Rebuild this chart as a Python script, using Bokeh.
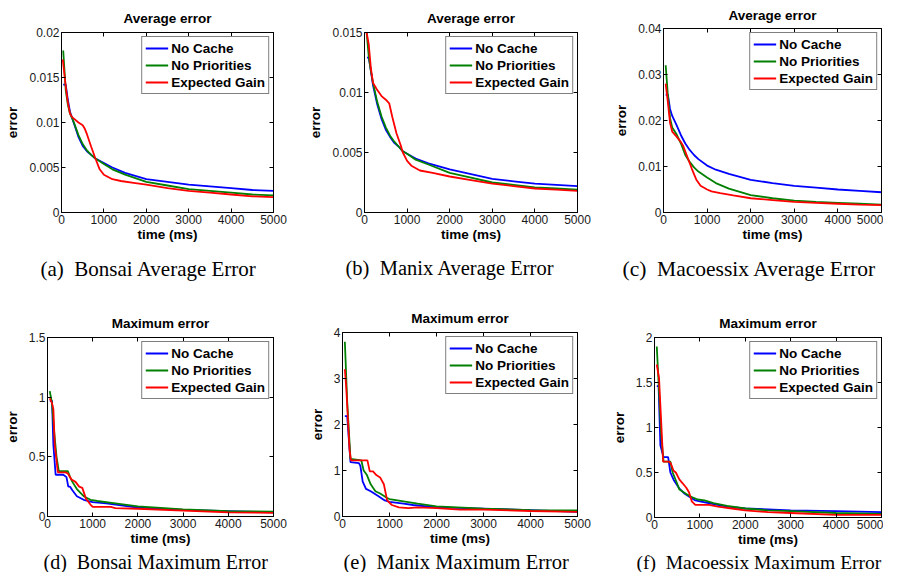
from bokeh.plotting import figure
from bokeh.layouts import column, row
from bokeh.models import Range1d, LinearAxis, FixedTicker, Title, Legend, LegendItem
from bokeh.embed import file_html
from bokeh.resources import INLINE

SERIES = ["No Cache", "No Priorities", "Expected Gain"]
COLORS = ["#0000ff", "#008000", "#ff0000"]
X_TICKS = [0, 1000, 2000, 3000, 4000, 5000]
X_LABELS = ["0", "1000", "2000", "3000", "4000", "5000"]

# (a) Bonsai average error
a_nc_t = [40, 100, 150, 200, 250, 300, 400, 500, 600, 700, 800, 1000, 1200, 1500, 2000, 2500, 3000, 3500, 4000, 4500, 5000]
a_nc = [0.0142, 0.0142, 0.0125, 0.0112, 0.0105, 0.0098, 0.0084, 0.0074, 0.0068, 0.0064, 0.0060, 0.0055, 0.0050, 0.0044, 0.0037, 0.0034, 0.0031, 0.0029, 0.0027, 0.0025, 0.0024]
a_np_t = [40, 100, 150, 200, 250, 300, 400, 500, 600, 700, 800, 1000, 1200, 1500, 2000, 2500, 3000, 3500, 4000, 4500, 5000]
a_np = [0.0180, 0.0136, 0.0120, 0.0110, 0.0105, 0.0099, 0.0086, 0.0076, 0.0069, 0.0064, 0.0060, 0.0054, 0.0048, 0.0042, 0.0034, 0.0030, 0.0026, 0.0024, 0.0022, 0.0020, 0.0019]
a_eg_t = [30, 100, 150, 200, 250, 300, 400, 500, 550, 600, 700, 800, 900, 1000, 1200, 1400, 1700, 2000, 2500, 3000, 3500, 4000, 4500, 5000]
a_eg = [0.0170, 0.0140, 0.0122, 0.0110, 0.0106, 0.0104, 0.0100, 0.0097, 0.0093, 0.0087, 0.0073, 0.0060, 0.0048, 0.0042, 0.0037, 0.0035, 0.0033, 0.0031, 0.0027, 0.0024, 0.0022, 0.0020, 0.0018, 0.0017]
a_yticks = [0, 0.005, 0.01, 0.015, 0.02]
a_ylabels = ["0", "0.005", "0.01", "0.015", "0.02"]

# (b) Manix average error
b_nc_t = [60, 100, 150, 200, 300, 400, 500, 600, 700, 800, 900, 1000, 1200, 1500, 2000, 2500, 3000, 3500, 4000, 4500, 5000]
b_nc = [0.0129, 0.0129, 0.0118, 0.0106, 0.0090, 0.0078, 0.0069, 0.0063, 0.0058, 0.0055, 0.0051, 0.0049, 0.0045, 0.0041, 0.0036, 0.0032, 0.0028, 0.0026, 0.0024, 0.0023, 0.0022]
b_np_t = [50, 100, 150, 200, 300, 400, 500, 600, 700, 800, 900, 1000, 1200, 1500, 2000, 2500, 3000, 3500, 4000, 4500, 5000]
b_np = [0.0150, 0.0130, 0.0118, 0.0108, 0.0092, 0.0080, 0.0071, 0.0064, 0.0059, 0.0055, 0.0051, 0.0049, 0.0044, 0.0040, 0.0033, 0.0029, 0.0025, 0.0023, 0.0021, 0.0020, 0.0019]
b_eg_t = [50, 100, 150, 200, 250, 300, 400, 500, 580, 650, 750, 850, 900, 1000, 1100, 1300, 1600, 2000, 2500, 3000, 3500, 4000, 4500, 5000]
b_eg = [0.0150, 0.0140, 0.0120, 0.0108, 0.0105, 0.0102, 0.0097, 0.0094, 0.0091, 0.0080, 0.0066, 0.0056, 0.0050, 0.0043, 0.0039, 0.0035, 0.0033, 0.0030, 0.0027, 0.0024, 0.0022, 0.0020, 0.0019, 0.0018]
b_yticks = [0, 0.005, 0.01, 0.015]
b_ylabels = ["0", "0.005", "0.01", "0.015"]

# (c) Macoessix average error
c_nc_t = [50, 100, 150, 200, 300, 400, 500, 600, 700, 800, 1000, 1200, 1500, 2000, 2500, 3000, 3500, 4000, 4500, 5000]
c_nc = [0.0256, 0.0256, 0.0225, 0.0210, 0.0190, 0.0168, 0.0150, 0.0136, 0.0125, 0.0116, 0.0102, 0.0093, 0.0084, 0.0071, 0.0064, 0.0058, 0.0054, 0.0050, 0.0047, 0.0044]
c_np_t = [50, 100, 150, 200, 300, 400, 500, 600, 700, 800, 1000, 1200, 1500, 2000, 2500, 3000, 3500, 4000, 4500, 5000]
c_np = [0.0320, 0.0255, 0.0205, 0.0185, 0.0170, 0.0150, 0.0125, 0.0110, 0.0098, 0.0089, 0.0076, 0.0064, 0.0052, 0.0038, 0.0031, 0.0026, 0.0023, 0.0021, 0.0019, 0.0017]
c_eg_t = [50, 100, 150, 200, 300, 400, 450, 550, 650, 750, 850, 1000, 1100, 1300, 1600, 2000, 2500, 3000, 3500, 4000, 4500, 5000]
c_eg = [0.0280, 0.0240, 0.0195, 0.0176, 0.0165, 0.0153, 0.0145, 0.0120, 0.0095, 0.0072, 0.0058, 0.0050, 0.0046, 0.0042, 0.0037, 0.0031, 0.0027, 0.0023, 0.0021, 0.0019, 0.0017, 0.0016]
c_yticks = [0, 0.01, 0.02, 0.03, 0.04]
c_ylabels = ["0", "0.01", "0.02", "0.03", "0.04"]

# (d) Bonsai maximum error
d_nc_t = [50, 100, 130, 180, 350, 420, 460, 500, 550, 650, 800, 1000, 1300, 2000, 3000, 4000, 5000]
d_nc = [0.97, 0.97, 0.60, 0.35, 0.35, 0.33, 0.25, 0.25, 0.22, 0.17, 0.14, 0.12, 0.11, 0.075, 0.055, 0.045, 0.035]
d_np_t = [50, 100, 150, 200, 250, 450, 500, 550, 650, 800, 950, 1100, 1500, 2000, 3000, 4000, 5000]
d_np = [1.05, 0.95, 0.70, 0.50, 0.38, 0.38, 0.33, 0.29, 0.23, 0.17, 0.14, 0.13, 0.11, 0.085, 0.06, 0.045, 0.04]
d_eg_t = [50, 100, 130, 160, 230, 400, 450, 530, 620, 700, 770, 850, 950, 1000, 1400, 1500, 2000, 3000, 4000, 5000]
d_eg = [0.99, 0.95, 0.90, 0.60, 0.37, 0.37, 0.36, 0.31, 0.29, 0.25, 0.24, 0.15, 0.10, 0.08, 0.08, 0.07, 0.065, 0.05, 0.035, 0.03]
d_yticks = [0, 0.5, 1, 1.5]
d_ylabels = ["0", "0.5", "1", "1.5"]

# (e) Manix maximum error
e_nc_t = [50, 100, 170, 350, 380, 430, 500, 600, 750, 900, 1000, 1300, 1500, 2000, 3000, 4000, 5000]
e_nc = [2.18, 2.18, 1.18, 1.16, 1.10, 0.76, 0.60, 0.55, 0.45, 0.35, 0.32, 0.28, 0.25, 0.20, 0.17, 0.14, 0.10]
e_np_t = [50, 100, 170, 400, 450, 520, 600, 700, 800, 950, 1000, 1300, 1600, 2000, 3000, 4000, 5000]
e_np = [3.80, 2.50, 1.25, 1.22, 1.00, 0.90, 0.70, 0.55, 0.50, 0.40, 0.38, 0.33, 0.28, 0.22, 0.17, 0.14, 0.13]
e_eg_t = [50, 80, 150, 180, 530, 580, 650, 720, 800, 880, 950, 1050, 1200, 1400, 1600, 2000, 2500, 3000, 4000, 5000]
e_eg = [3.20, 2.80, 1.45, 1.22, 1.22, 0.98, 0.98, 0.90, 0.85, 0.70, 0.35, 0.25, 0.20, 0.18, 0.20, 0.18, 0.15, 0.15, 0.12, 0.10]
e_yticks = [0, 1, 2, 3, 4]
e_ylabels = ["0", "1", "2", "3", "4"]

# (f) Macoessix maximum error
f_nc_t = [50, 90, 130, 200, 300, 350, 420, 550, 650, 800, 900, 1000, 1300, 1600, 2000, 2500, 3000, 4000, 5000]
f_nc = [1.46, 1.46, 0.80, 0.67, 0.67, 0.50, 0.42, 0.32, 0.27, 0.22, 0.19, 0.18, 0.15, 0.12, 0.10, 0.09, 0.08, 0.07, 0.06]
f_np_t = [50, 100, 150, 200, 350, 400, 480, 550, 700, 850, 950, 1100, 1300, 1600, 2000, 2500, 3000, 4000, 5000]
f_np = [1.90, 1.40, 0.90, 0.62, 0.62, 0.50, 0.40, 0.31, 0.26, 0.22, 0.20, 0.19, 0.16, 0.13, 0.10, 0.08, 0.07, 0.05, 0.04]
f_eg_t = [50, 100, 190, 320, 360, 420, 470, 550, 620, 700, 760, 820, 900, 1200, 1400, 1700, 2000, 2500, 3000, 4000, 5000]
f_eg = [1.70, 1.55, 0.62, 0.62, 0.60, 0.52, 0.50, 0.42, 0.38, 0.33, 0.28, 0.18, 0.14, 0.14, 0.12, 0.10, 0.08, 0.06, 0.05, 0.03, 0.03]
f_yticks = [0, 0.5, 1, 1.5, 2]
f_ylabels = ["0", "0.5", "1", "1.5", "2"]

SANS = "Liberation Sans"
SERIF = "Liberation Serif"
BOLD_SIZE = "13.5px"
TICK_SIZE = "12px"
NB = "\u00a0"


def style_axis(ax, labels_visible=True):
    ax.axis_line_color = "black"
    ax.major_tick_line_color = "black"
    ax.major_tick_in = 4
    ax.major_tick_out = 0
    ax.minor_tick_line_color = None
    ax.major_label_text_font = SANS
    if labels_visible:
        ax.major_label_text_font_size = TICK_SIZE
        ax.major_label_text_color = "#1a1a1a"
        ax.major_label_standoff = 2
    else:
        ax.major_label_text_font_size = "1px"
        ax.major_label_text_color = None
        ax.major_label_standoff = 0
    ax.axis_label_text_font = SANS
    ax.axis_label_text_font_style = "bold"
    ax.axis_label_text_font_size = BOLD_SIZE
    ax.axis_label_text_color = "black"


def panel(title, caption, data, ymax, yticks, ylabels, w, h, ml, mr, mt, mb,
          title_standoff, cap_off, cap_size, cap_standoff):
    p = figure(width=w, height=h, x_range=Range1d(0, 5000), y_range=Range1d(0, ymax),
               output_backend="svg", toolbar_location=None,
               min_border_left=ml, min_border_right=mr, min_border_top=mt, min_border_bottom=mb,
               title=title)
    p.background_fill_color = "white"
    p.border_fill_color = "white"
    p.outline_line_color = "black"
    p.outline_line_width = 1
    p.xgrid.visible = False
    p.ygrid.visible = False
    p.title.align = "center"
    p.title.vertical_align = "middle"
    p.title.text_font = SANS
    p.title.text_font_style = "bold"
    p.title.text_font_size = BOLD_SIZE
    p.title.text_color = "black"
    p.title.standoff = title_standoff

    p.xaxis.ticker = FixedTicker(ticks=X_TICKS)
    p.xaxis.major_label_overrides = dict(zip(X_TICKS, X_LABELS))
    p.xaxis.axis_label = "time (ms)"
    p.xaxis.axis_label_standoff = 0
    p.yaxis.ticker = FixedTicker(ticks=yticks)
    p.yaxis.major_label_overrides = dict(zip(yticks, ylabels))
    p.yaxis.axis_label = "error"
    p.yaxis.axis_label_standoff = 6
    style_axis(p.xaxis[0])
    style_axis(p.yaxis[0])

    ax_r = LinearAxis(ticker=FixedTicker(ticks=yticks))
    style_axis(ax_r, labels_visible=False)
    p.add_layout(ax_r, "right")
    ax_t = LinearAxis(ticker=FixedTicker(ticks=X_TICKS))
    style_axis(ax_t, labels_visible=False)
    p.add_layout(ax_t, "above")

    items = []
    for (t, v), name, col in zip(data, SERIES, COLORS):
        r = p.line(t, v, line_color=col, line_width=1.8)
        items.append(LegendItem(label=name, renderers=[r]))
    leg = Legend(items=items, location="top_right")
    leg.border_line_color = "black"
    leg.border_line_width = 1
    leg.background_fill_color = "white"
    leg.background_fill_alpha = 1
    leg.label_text_font = SANS
    leg.label_text_font_style = "bold"
    leg.label_text_font_size = BOLD_SIZE
    leg.label_text_color = "black"
    leg.glyph_width = 23
    leg.glyph_height = 16
    leg.label_height = 16
    leg.label_standoff = 3
    leg.spacing = 1
    leg.padding = 3
    leg.margin = 4
    p.add_layout(leg)

    cap = Title(text=caption, align="left", offset=cap_off, text_font=SERIF,
                text_font_style="normal", text_font_size=cap_size, text_color="black",
                standoff=cap_standoff)
    p.add_layout(cap, "below")
    return p


pa = panel("Average error", "(a)" + NB + NB + "Bonsai Average Error",
           [(a_nc_t, a_nc), (a_np_t, a_np), (a_eg_t, a_eg)], 0.02, a_yticks, a_ylabels,
           300, 290, 61, 27, 32, 78, 12, -21, "21px", 20)
pb = panel("Average error", "(b)" + NB + NB + "Manix Average Error",
           [(b_nc_t, b_nc), (b_np_t, b_np), (b_eg_t, b_eg)], 0.015, b_yticks, b_ylabels,
           298, 290, 64, 21, 32, 78, 12, -19, "20.5px", 20)
pc = panel("Average error", "(c)" + NB + NB + "Macoessix Average Error",
           [(c_nc_t, c_nc), (c_np_t, c_np), (c_eg_t, c_eg)], 0.04, c_yticks, c_ylabels,
           285, 290, 65, 2, 28, 78, 10, -41, "21.5px", 20)
pd = panel("Maximum error", "(d)" + NB + NB + "Bonsai Maximum Error",
           [(d_nc_t, d_nc), (d_np_t, d_np), (d_eg_t, d_eg)], 1.5, d_yticks, d_ylabels,
           300, 282, 47, 27, 47, 55, 12, -4, "20px", 0)
pe = panel("Maximum error", "(e)" + NB + NB + "Manix Maximum Error",
           [(e_nc_t, e_nc), (e_np_t, e_np), (e_eg_t, e_eg)], 4, e_yticks, e_ylabels,
           298, 282, 42, 21, 42, 55, 12, 1, "20.5px", 0)
pf = panel("Maximum error", "(f)" + NB + NB + "Macoessix Maximum Error",
           [(f_nc_t, f_nc), (f_np_t, f_np), (f_eg_t, f_eg)], 2, f_yticks, f_ylabels,
           285, 282, 56, 2, 47, 55, 12, -18, "19.5px", 0)

layout = column(row(column(pa), column(pb), column(pc)),
                row(column(pd), column(pe), column(pf)))
open("out.html", "w").write(file_html(layout, INLINE))
